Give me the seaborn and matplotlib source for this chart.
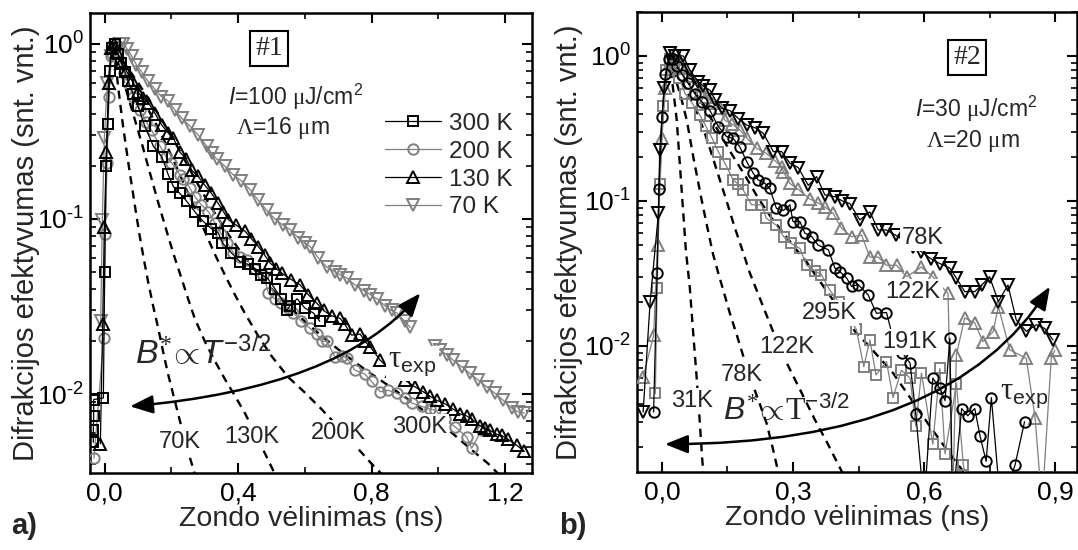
import numpy as np
import pandas as pd
import matplotlib
matplotlib.use("Agg")
import matplotlib.pyplot as plt
import seaborn as sns
from matplotlib.ticker import MultipleLocator, LogLocator, FuncFormatter, NullFormatter

# ---------------- panel a) : sample #1 ----------------
t300 = [-0.034, -0.034, -0.033, -0.033, -0.004, 0.0, 0.004, 0.009, 0.015, 0.022, 0.03, 0.04, 0.05,
        0.061, 0.071, 0.085, 0.10, 0.12, 0.146, 0.171, 0.19, 0.206, 0.225, 0.246, 0.27, 0.295, 0.32,
        0.341, 0.353, 0.38, 0.406, 0.43, 0.451, 0.47, 0.488, 0.51, 0.53, 0.546, 0.556, 0.577, 0.60,
        0.626, 0.645]
y300 = [0.0053, 0.0062, 0.0075, 0.0093, 0.0095, 0.05, 0.2, 0.35, 0.7, 0.95, 1.0, 0.88, 0.78,
        0.69, 0.61, 0.52, 0.44, 0.34, 0.26, 0.227, 0.18, 0.153, 0.14, 0.126, 0.11, 0.097, 0.088,
        0.083, 0.073, 0.064, 0.057, 0.055, 0.052, 0.048, 0.046, 0.040, 0.035, 0.030, 0.032, 0.035, 0.031,
        0.029, 0.026]

t200 = [-0.032, -0.003, 0.002, 0.007, 0.013, 0.02, 0.028, 0.036, 0.046, 0.058, 0.07, 0.085, 0.106,
        0.124, 0.141, 0.166, 0.185, 0.20, 0.226, 0.236, 0.255, 0.271, 0.29, 0.311, 0.33, 0.35, 0.367,
        0.386, 0.405, 0.426, 0.45, 0.476, 0.491, 0.51, 0.53, 0.55, 0.566, 0.59, 0.616, 0.635, 0.65,
        0.666, 0.69, 0.71, 0.726, 0.75, 0.78, 0.80, 0.826, 0.85, 0.876, 0.90, 0.92, 0.95, 0.975,
        0.99, 1.02, 1.05, 1.085, 1.10, 1.13]
y200 = [0.0043, 0.021, 0.082, 0.21, 0.5, 0.85, 0.95, 0.9, 0.8, 0.68, 0.6, 0.5, 0.42,
        0.36, 0.32, 0.26, 0.225, 0.21, 0.178, 0.17, 0.15, 0.134, 0.12, 0.11, 0.095, 0.082, 0.073,
        0.064, 0.061, 0.058, 0.052, 0.048, 0.0376, 0.035, 0.033, 0.031, 0.029, 0.026, 0.0237, 0.022, 0.020,
        0.020, 0.0163, 0.0165, 0.016, 0.0137, 0.013, 0.0118, 0.0103, 0.0105, 0.0101, 0.0095, 0.0089, 0.0085, 0.0082,
        0.0081, 0.0072, 0.0065, 0.0057, 0.0049, 0.0062]

t130 = [-0.013, -0.006, -0.001, 0.005, 0.012, 0.02, 0.028, 0.038, 0.05, 0.065, 0.081, 0.10, 0.115,
        0.131, 0.151, 0.171, 0.19, 0.206, 0.226, 0.245, 0.261, 0.28, 0.30, 0.32, 0.34, 0.356, 0.371,
        0.395, 0.421, 0.44, 0.461, 0.48, 0.496, 0.515, 0.531, 0.56, 0.586, 0.61, 0.636, 0.656, 0.68,
        0.706, 0.72, 0.74, 0.766, 0.78, 0.796, 0.826, 0.86, 0.90, 0.93, 0.955, 0.976, 0.996, 1.02,
        1.045, 1.065, 1.085, 1.10, 1.125, 1.14, 1.155, 1.175, 1.19, 1.21, 1.235, 1.258]
y130 = [0.0052, 0.025, 0.09, 0.24, 0.6, 0.95, 1.0, 0.9, 0.78, 0.7, 0.62, 0.53, 0.49,
        0.46, 0.40, 0.344, 0.31, 0.289, 0.24, 0.22, 0.19, 0.175, 0.156, 0.14, 0.123, 0.11, 0.099,
        0.092, 0.085, 0.077, 0.0695, 0.062, 0.056, 0.052, 0.049, 0.045, 0.042, 0.037, 0.033, 0.030, 0.028,
        0.027, 0.025, 0.0217, 0.022, 0.020, 0.0186, 0.0156, 0.0135, 0.012, 0.011, 0.0103, 0.0097, 0.0092, 0.0088,
        0.0082, 0.0077, 0.0075, 0.0072, 0.0066, 0.0064, 0.0062, 0.0059, 0.0058, 0.0055, 0.0051, 0.0047]

t70 = [-0.012, -0.007, -0.001, 0.008, 0.018, 0.03, 0.045, 0.056, 0.068, 0.081, 0.095, 0.111, 0.13,
       0.151, 0.17, 0.191, 0.21, 0.231, 0.255, 0.281, 0.306, 0.321, 0.336, 0.36, 0.386, 0.41, 0.436,
       0.46, 0.486, 0.51, 0.535, 0.556, 0.58, 0.60, 0.616, 0.64, 0.666, 0.69, 0.705, 0.726, 0.75,
       0.776, 0.796, 0.816, 0.84, 0.86, 0.876, 0.90, 0.916,
       0.99, 1.005, 1.025, 1.045, 1.07, 1.095, 1.12, 1.145, 1.17, 1.195, 1.22, 1.24, 1.258]
y70 = [0.026, 0.099, 0.29, 0.6, 0.85, 0.95, 1.0, 1.0, 0.93, 0.85, 0.76, 0.69, 0.61,
       0.55, 0.5, 0.47, 0.42, 0.376, 0.34, 0.30, 0.26, 0.237, 0.22, 0.20, 0.178, 0.165, 0.147,
       0.128, 0.112, 0.10, 0.092, 0.087, 0.078, 0.073, 0.0695, 0.06, 0.053, 0.05, 0.048, 0.046, 0.042,
       0.039, 0.037, 0.035, 0.032, 0.030, 0.029, 0.026, 0.024,
       0.0187, 0.0178, 0.0168, 0.0156, 0.0143, 0.0131, 0.012, 0.011, 0.0101, 0.0092, 0.0083, 0.0079, 0.0078]
seg70 = [0] * 49 + [1] * 13

# model curves B* ~ T^-3/2, panel a)
m70_t = [0.025, 0.035, 0.045, 0.055, 0.065, 0.075, 0.085, 0.095, 0.105, 0.118, 0.13, 0.145, 0.16,
         0.175, 0.19, 0.21, 0.23, 0.25, 0.27]
m70_y = [0.95, 0.7, 0.48, 0.34, 0.25, 0.185, 0.14, 0.105, 0.08, 0.058, 0.044, 0.032, 0.024,
         0.0175, 0.013, 0.0092, 0.0065, 0.0047, 0.0035]
m130_t = [0.025, 0.04, 0.055, 0.07, 0.085, 0.10, 0.115, 0.13, 0.145, 0.16, 0.175, 0.19, 0.21, 0.23,
          0.25, 0.27, 0.30, 0.33, 0.36, 0.39, 0.42, 0.45, 0.48, 0.51]
m130_y = [0.95, 0.78, 0.63, 0.5, 0.4, 0.32, 0.255, 0.2, 0.158, 0.125, 0.1, 0.08, 0.06, 0.046,
          0.035, 0.027, 0.02, 0.0155, 0.0122, 0.0098, 0.0078, 0.006, 0.0046, 0.0035]
m200_t = [0.025, 0.05, 0.075, 0.10, 0.125, 0.15, 0.175, 0.20, 0.225, 0.25, 0.275, 0.30, 0.33, 0.36,
          0.39, 0.42, 0.46, 0.50, 0.55, 0.60, 0.65, 0.70, 0.75, 0.80, 0.83]
m200_y = [0.95, 0.8, 0.66, 0.54, 0.44, 0.36, 0.29, 0.23, 0.18, 0.14, 0.11, 0.085, 0.063, 0.048,
          0.037, 0.029, 0.0215, 0.0165, 0.0125, 0.0102, 0.0082, 0.0065, 0.0051, 0.004, 0.0035]
m300_t = [0.025, 0.05, 0.075, 0.10, 0.13, 0.16, 0.19, 0.22, 0.25, 0.29, 0.33, 0.37, 0.41, 0.45, 0.50,
          0.55, 0.60, 0.65, 0.70, 0.75, 0.80, 0.85, 0.90, 0.95, 1.0, 1.05, 1.10, 1.15, 1.18]
m300_y = [0.95, 0.82, 0.7, 0.6, 0.49, 0.4, 0.32, 0.255, 0.2, 0.145, 0.108, 0.082, 0.064, 0.051, 0.04,
          0.032, 0.026, 0.0215, 0.018, 0.0152, 0.013, 0.0112, 0.0096, 0.0082, 0.007, 0.0058, 0.0048, 0.004, 0.0035]

# ---------------- panel b) : sample #2 ----------------
t295 = [-0.015, -0.011, -0.005, 0.003, 0.01, 0.018, 0.028, 0.04, 0.053, 0.07, 0.087, 0.10, 0.115,
        0.129, 0.145, 0.163, 0.175, 0.186, 0.205, 0.228, 0.239, 0.262, 0.28, 0.295, 0.316, 0.331, 0.35,
        0.365, 0.384, 0.405, 0.425, 0.445, 0.462, 0.476, 0.49, 0.514, 0.529, 0.548, 0.568, 0.581, 0.594,
        0.62, 0.636, 0.648, 0.674, 0.69, 0.705]
y295 = [0.0047, 0.025, 0.13, 0.45, 0.8, 0.95, 0.85, 0.7, 0.55, 0.47, 0.39, 0.33, 0.27,
        0.219, 0.18, 0.14, 0.13, 0.119, 0.094, 0.094, 0.076, 0.068, 0.056, 0.051, 0.047, 0.036, 0.033,
        0.031, 0.0243, 0.020, 0.016, 0.013, 0.0072, 0.011, 0.0063, 0.0078, 0.0044, 0.0068, 0.006, 0.0028, 0.0065,
        0.0021, 0.007, 0.0018, 0.0055, 0.0015, 0.0009]

t191 = [-0.019, -0.011, -0.007, 0.0, 0.008, 0.016, 0.025, 0.035, 0.047, 0.06, 0.075, 0.092, 0.11,
        0.129, 0.148, 0.163, 0.178, 0.194, 0.209, 0.22, 0.236, 0.247, 0.262, 0.278, 0.293, 0.30, 0.316,
        0.327, 0.343, 0.357, 0.381, 0.396, 0.407, 0.423, 0.434, 0.449, 0.472, 0.491, 0.514, 0.53, 0.55,
        0.568, 0.581, 0.60, 0.62, 0.636, 0.648, 0.659, 0.665, 0.686, 0.70, 0.716, 0.728, 0.742, 0.754,
        0.775, 0.808, 0.83]
y191 = [0.0035, 0.032, 0.12, 0.38, 0.75, 0.95, 0.95, 0.85, 0.74, 0.65, 0.55, 0.48, 0.42,
        0.326, 0.278, 0.27, 0.237, 0.187, 0.155, 0.14, 0.132, 0.122, 0.089, 0.086, 0.094, 0.072, 0.072,
        0.06, 0.0567, 0.0497, 0.046, 0.0344, 0.0326, 0.0293, 0.0257, 0.0265, 0.0225, 0.0168, 0.017, 0.011, 0.009,
        0.0076, 0.0034, 0.0008, 0.006, 0.0051, 0.0042, 0.0113, 0.0008, 0.0037, 0.0033, 0.0037, 0.0024, 0.0016, 0.0044,
        0.0008, 0.0015, 0.003]

t122 = [-0.043, -0.019, -0.01, 0.0, 0.008, 0.018, 0.03, 0.04, 0.052, 0.065, 0.078, 0.09, 0.102,
        0.118, 0.133, 0.144, 0.16, 0.178, 0.195, 0.217, 0.239, 0.258, 0.274, 0.278, 0.293, 0.312, 0.339,
        0.357, 0.373, 0.392, 0.411, 0.434, 0.457, 0.476, 0.495, 0.514, 0.537, 0.56, 0.594, 0.62, 0.655,
        0.665, 0.674, 0.693, 0.716, 0.735, 0.758, 0.77, 0.796, 0.834, 0.854, 0.87, 0.891, 0.899]
y122 = [0.0061, 0.0118, 0.05, 0.27, 0.6, 0.9, 1.04, 0.95, 0.82, 0.73, 0.63, 0.57, 0.52,
        0.47, 0.435, 0.36, 0.34, 0.31, 0.27, 0.23, 0.213, 0.19, 0.172, 0.159, 0.132, 0.12, 0.103,
        0.097, 0.091, 0.082, 0.065, 0.0567, 0.058, 0.041, 0.041, 0.036, 0.036, 0.030, 0.035, 0.030, 0.023,
        0.0008, 0.0087, 0.0156, 0.0144, 0.0107, 0.0125, 0.0187, 0.0094, 0.0082, 0.0032, 0.0008, 0.0082, 0.0093]

t78 = [-0.043, -0.027, -0.008, -0.005, 0.005, 0.018, 0.03, 0.049, 0.064, 0.083, 0.095, 0.11, 0.122,
       0.137, 0.156, 0.175, 0.194, 0.213, 0.232, 0.255, 0.274, 0.293, 0.312, 0.335, 0.354, 0.373, 0.396,
       0.413, 0.43, 0.453, 0.476, 0.495, 0.514, 0.535, 0.556, 0.575, 0.594, 0.615, 0.636, 0.659, 0.674,
       0.693, 0.716, 0.732, 0.75, 0.77, 0.792, 0.811, 0.834, 0.857, 0.876, 0.895]
y78 = [0.0035, 0.02, 0.082, 0.225, 0.6, 1.05, 1.0, 1.0, 0.8, 0.665, 0.62, 0.58, 0.5,
       0.435, 0.42, 0.37, 0.334, 0.32, 0.293, 0.219, 0.219, 0.182, 0.17, 0.128, 0.147, 0.11, 0.107,
       0.1, 0.096, 0.074, 0.084, 0.063, 0.063, 0.058, 0.053, 0.048, 0.0447, 0.04, 0.037, 0.0344, 0.0293,
       0.0237, 0.0237, 0.0263, 0.030, 0.0202, 0.0263, 0.0151, 0.0126, 0.014, 0.0132, 0.011]

# model curves, panel b)
n31_t = [0.012, 0.02, 0.027, 0.034, 0.041, 0.048, 0.055, 0.064, 0.071, 0.08, 0.086, 0.092, 0.096]
n31_y = [1.0, 0.8, 0.55, 0.36, 0.18, 0.09, 0.045, 0.025, 0.013, 0.0058, 0.0032, 0.0017, 0.0012]
n78_t = [0.012, 0.03, 0.045, 0.057, 0.072, 0.09, 0.102, 0.117, 0.13, 0.14, 0.155, 0.171, 0.19, 0.209,
         0.225, 0.24, 0.255, 0.27]
n78_y = [1.0, 0.72, 0.5, 0.36, 0.2, 0.105, 0.07, 0.043, 0.031, 0.0245, 0.017, 0.012, 0.0078, 0.0053,
         0.0039, 0.0029, 0.0019, 0.0012]
n122_t = [0.012, 0.04, 0.06, 0.079, 0.092, 0.106, 0.125, 0.148, 0.165, 0.185, 0.201, 0.225, 0.247,
          0.265, 0.285, 0.316, 0.35, 0.38, 0.415]
n122_y = [1.0, 0.72, 0.55, 0.42, 0.33, 0.25, 0.165, 0.1, 0.068, 0.045, 0.032, 0.021, 0.0143,
          0.0105, 0.0077, 0.005, 0.0031, 0.0021, 0.0013]
n295_t = [0.012, 0.04, 0.07, 0.10, 0.13, 0.16, 0.19, 0.22, 0.25, 0.278, 0.308, 0.331, 0.354, 0.377,
          0.41, 0.442, 0.483, 0.529, 0.575, 0.613, 0.659, 0.695]
n295_y = [1.0, 0.8, 0.6, 0.43, 0.3, 0.21, 0.15, 0.105, 0.077, 0.06, 0.046, 0.038, 0.030, 0.024,
          0.0172, 0.0126, 0.0093, 0.0065, 0.0041, 0.0028, 0.0018, 0.0013]

legend_labels = ["300 K", "200 K", "130 K", "70 K"]

# ---------------- style ----------------
sns.set_theme(style="ticks")
plt.rcParams.update({
    "font.family": ["Liberation Sans", "DejaVu Sans"],
    "mathtext.fontset": "custom",
    "mathtext.rm": "Liberation Serif",
    "mathtext.it": "Liberation Sans:italic",
    "mathtext.sf": "Liberation Sans",
    "mathtext.bf": "Liberation Sans:bold",
    "xtick.direction": "in", "ytick.direction": "in",
    "xtick.top": True, "ytick.right": True,
    "xtick.major.size": 7, "ytick.major.size": 7,
    "xtick.minor.size": 4, "ytick.minor.size": 4,
    "xtick.major.width": 1.5, "ytick.major.width": 1.5,
    "xtick.minor.width": 1.2, "ytick.minor.width": 1.2,
    "axes.linewidth": 1.8,
    "axes.edgecolor": "black",
    "xtick.color": "black", "ytick.color": "black",
})
GRAY = "#808080"
DASH = (0, (3.5, 2.6))

fig = plt.figure(figsize=(10.78, 5.5), dpi=100)
axA = fig.add_axes([90 / 1078, 77 / 550, 442 / 1078, 460 / 550])
axB = fig.add_axes([637 / 1078, 78 / 550, 440 / 1078, 460 / 550])


def draw_series(ax, t, y, color, marker, ms, seg=None):
    df = pd.DataFrame({"t": t, "y": y})
    n0 = len(ax.lines)
    kw = dict(color=color, lw=0.9, marker=marker, ms=ms, mfc="none", mec=color, mew=1.4,
              sort=False, estimator=None, zorder=3)
    if seg is not None:
        df["seg"] = seg
        sns.lineplot(data=df, x="t", y="y", units="seg", ax=ax, **kw)
    else:
        sns.lineplot(data=df, x="t", y="y", ax=ax, **kw)
    return ax.lines[n0]


def draw_model(ax, t, y):
    df = pd.DataFrame({"t": t, "y": y})
    sns.lineplot(data=df, x="t", y="y", ax=ax, color="black", lw=1.7, linestyle=DASH,
                 sort=False, estimator=None, zorder=2)


# panel a)
for mt, my in [(m70_t, m70_y), (m130_t, m130_y), (m200_t, m200_y), (m300_t, m300_y)]:
    draw_model(axA, mt, my)
h70 = draw_series(axA, t70, y70, GRAY, "v", 9, seg=seg70)
h200 = draw_series(axA, t200, y200, GRAY, "o", 7.5)
h130 = draw_series(axA, t130, y130, "black", "^", 9)
h300 = draw_series(axA, t300, y300, "black", "s", 6.5)

# panel b)
for mt, my in [(n31_t, n31_y), (n78_t, n78_y), (n122_t, n122_y), (n295_t, n295_y)]:
    draw_model(axB, mt, my)
draw_series(axB, t295, y295, GRAY, "s", 6.5)
draw_series(axB, t122, y122, GRAY, "^", 9)
draw_series(axB, t191, y191, "black", "o", 7.5)
draw_series(axB, t78, y78, "black", "v", 9)


def comma(v, pos):
    return f"{v:.1f}".replace(".", ",")


def decade(v, pos):
    e = int(round(np.log10(v)))
    if e < 0:
        return r"$\mathdefault{10^{\text{-}%d}}$" % (-e)
    return r"$\mathdefault{10^{%d}}$" % e


for ax, xlim, ylim, major, minor in [
        (axA, (-0.044, 1.281), (0.00354, 1.50), 0.4, 0.2),
        (axB, (-0.057, 0.95), (0.00135, 2.01), 0.3, 0.15)]:
    ax.set_yscale("log")
    ax.set_xlim(*xlim)
    ax.set_ylim(*ylim)
    ax.xaxis.set_major_locator(MultipleLocator(major))
    ax.xaxis.set_minor_locator(MultipleLocator(minor))
    ax.xaxis.set_major_formatter(FuncFormatter(comma))
    ax.yaxis.set_major_locator(LogLocator(base=10, numticks=10))
    ax.yaxis.set_minor_locator(LogLocator(base=10, subs=np.arange(2, 10), numticks=20))
    ax.yaxis.set_major_formatter(FuncFormatter(decade))
    ax.yaxis.set_minor_formatter(NullFormatter())
    ax.tick_params(axis="x", which="both", labelsize=19, pad=6)
    ax.tick_params(axis="y", which="both", labelsize=19, pad=4)
    ax.set_xlabel("Zondo vėlinimas (ns)", fontsize=20.5)
    ax.set_ylabel("Difrakcijos efektyvumas (snt. vnt.)", fontsize=21)
    for sp in ax.spines.values():
        sp.set_visible(True)
        sp.set_linewidth(1.8)

axA.xaxis.set_label_coords(0.5, -0.072)
axB.xaxis.set_label_coords(0.5, -0.072)
axA.yaxis.set_label_coords(-0.112, 0.5)
axB.yaxis.set_label_coords(-0.123, 0.5)

# legend of panel a)
axA.legend([h300, h200, h130, h70], legend_labels, loc="upper left",
           bbox_to_anchor=(0.667, 0.783), frameon=False, fontsize=17.5,
           handlelength=2.3, handletextpad=0.35, labelspacing=0.24,
           borderpad=0, borderaxespad=0)

WHITE = dict(boxstyle="square,pad=0.08", fc="white", ec="none")

# sample boxes
axA.text(0.405, 0.922, "#1", transform=axA.transAxes, ha="center", va="center",
         fontsize=20, family="Liberation Serif",
         bbox=dict(boxstyle="square,pad=0.18", fc="white", ec="black", lw=1.5), zorder=6)
axB.text(0.75, 0.902, "#2", transform=axB.transAxes, ha="center", va="center",
         fontsize=20, family="Liberation Serif",
         bbox=dict(boxstyle="square,pad=0.18", fc="white", ec="black", lw=1.5), zorder=6)

# excitation conditions
axA.text(0.464, 0.818, r"$\mathit{I}$=100 $\mathrm{\mu}$J/cm$^{\mathsf{2}}$", transform=axA.transAxes,
         ha="center", va="center", fontsize=16.5)
axA.text(0.437, 0.749, r"$\mathrm{\Lambda}$=16 $\mathrm{\mu}$m", transform=axA.transAxes,
         ha="center", va="center", fontsize=16.5)
axB.text(0.77, 0.79, r"$\mathit{I}$=30 $\mathrm{\mu}$J/cm$^{\mathsf{2}}$", transform=axB.transAxes,
         ha="center", va="center", fontsize=16.5)
axB.text(0.764, 0.72, r"$\mathrm{\Lambda}$=20 $\mathrm{\mu}$m", transform=axB.transAxes,
         ha="center", va="center", fontsize=16.5)

# temperature labels of model curves and data sets
for ax, items in [
        (axA, [("70K", 0.226, 0.0053), ("130K", 0.441, 0.0057), ("200K", 0.70, 0.0060),
               ("300K", 0.945, 0.0065)]),
        (axB, [("31K", 0.068, 0.0042), ("78K", 0.182, 0.0063), ("122K", 0.285, 0.0099),
               ("78K", 0.598, 0.0553), ("122K", 0.575, 0.0237), ("295K", 0.384, 0.0168),
               ("191K", 0.568, 0.0107)])]:
    for txt, x, y in items:
        ax.text(x, y, txt, ha="center", va="center", fontsize=17, bbox=WHITE, zorder=5)

# recombination-law and lifetime annotations
axA.text(0.295, 0.0170, r"$B^{*}\!\propto\! T^{\mathsf{-3/2}}$", ha="center", va="center",
         fontsize=24.5, zorder=5)
axB.text(0.286, 0.0036, r"$B^{*}\!\propto\!\mathrm{T}^{\mathsf{-3/2}}$", ha="center", va="center",
         fontsize=23, zorder=5)
axA.text(0.85, 0.0150, r"$\mathrm{\tau}_{\mathsf{exp}}$", ha="left", va="center", fontsize=22,
         bbox=WHITE, zorder=5)
axB.text(0.773, 0.0046, r"$\mathrm{\tau}_{\mathsf{exp}}$", ha="left", va="center", fontsize=22,
         zorder=5)

ARROW = dict(arrowstyle="<|-|>,head_length=0.7,head_width=0.28", color="black", lw=1.8,
             shrinkA=0, shrinkB=0, mutation_scale=20)
axA.annotate("", xy=(0.946, 0.0376), xytext=(0.076, 0.0085),
             arrowprops=dict(connectionstyle="angle3,angleA=5,angleB=50", **ARROW), zorder=7)
axB.annotate("", xy=(0.888, 0.0256), xytext=(0.007, 0.0021),
             arrowprops=dict(connectionstyle="angle3,angleA=0,angleB=58", **ARROW), zorder=7)

# panel letters
fig.text(24 / 1078, 1 - 526 / 550, "a)", fontsize=21, weight="bold", ha="center", va="center")
fig.text(573 / 1078, 1 - 526 / 550, "b)", fontsize=21, weight="bold", ha="center", va="center")

fig.savefig("out.png", dpi=100)
